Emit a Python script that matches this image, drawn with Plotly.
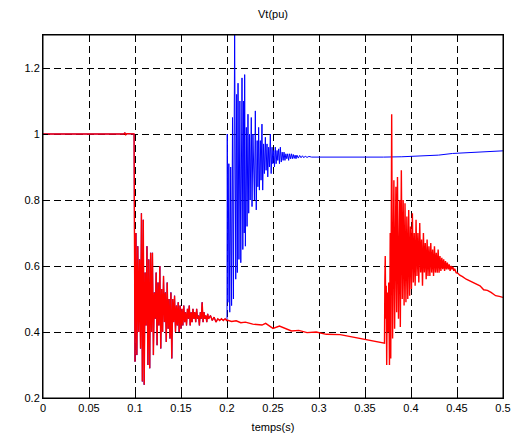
import plotly.graph_objects as go

# ---- data (time in s, voltage in pu) ----
# segment common to both cases (pre-fault + fault, 0 .. 0.2 s)
common_t = [0.000, 0.050, 0.088, 0.089, 0.090, 0.091, 0.099,
            0.100, 0.101, 0.102, 0.103, 0.104, 0.105, 0.106, 0.107, 0.108, 0.109,
            0.110, 0.111, 0.112, 0.113, 0.114, 0.115, 0.116, 0.117, 0.118, 0.119,
            0.120, 0.121, 0.122, 0.123, 0.124, 0.125, 0.126, 0.127, 0.128, 0.129,
            0.130, 0.131, 0.132, 0.133, 0.134, 0.135, 0.136, 0.137, 0.138, 0.139,
            0.140, 0.141, 0.142, 0.143, 0.144, 0.145, 0.146, 0.147, 0.148, 0.149,
            0.150, 0.151, 0.152, 0.153, 0.154, 0.155, 0.156, 0.157, 0.158, 0.159,
            0.160, 0.161, 0.162, 0.163, 0.164, 0.165, 0.166, 0.167, 0.168, 0.169,
            0.170, 0.171, 0.172, 0.173, 0.174, 0.175, 0.176, 0.177, 0.178, 0.179,
            0.180, 0.182, 0.184, 0.186, 0.188, 0.190, 0.192, 0.194, 0.196, 0.198, 0.1995]
common_v = [1.000, 1.000, 1.000, 1.004, 0.998, 1.001, 1.000,
            0.31, 0.70, 0.33, 0.66, 0.40, 0.62, 0.35, 0.76, 0.25, 0.74,
            0.24, 0.58, 0.42, 0.66, 0.30, 0.62, 0.29, 0.64, 0.40, 0.64,
            0.33, 0.52, 0.44, 0.58, 0.36, 0.55, 0.42, 0.60, 0.35, 0.53,
            0.40, 0.57, 0.43, 0.52, 0.37, 0.55, 0.41, 0.50, 0.38, 0.52,
            0.32, 0.50, 0.43, 0.51, 0.40, 0.48, 0.42, 0.49, 0.40, 0.48,
            0.41, 0.47, 0.42, 0.48, 0.43, 0.46, 0.42, 0.47, 0.44, 0.48,
            0.42, 0.46, 0.43, 0.47, 0.44, 0.46, 0.43, 0.47, 0.44, 0.45,
            0.42, 0.46, 0.44, 0.49, 0.43, 0.46, 0.44, 0.45, 0.43, 0.455,
            0.44, 0.45, 0.435, 0.445, 0.43, 0.44, 0.435, 0.44, 0.435, 0.44, 0.435]

# blue case: fault cleared at 0.2 s
blue_t = [0.2000, 0.2003, 0.2010, 0.2020, 0.2030, 0.2040, 0.2050, 0.2060, 0.2070,
          0.2083, 0.2095, 0.2105, 0.2112, 0.2120, 0.2130, 0.2140, 0.2150, 0.2163,
          0.2172, 0.2180, 0.2187, 0.2192, 0.2200, 0.2210, 0.2218, 0.2228, 0.2236,
          0.2245, 0.2252, 0.2264, 0.2272, 0.2282, 0.2290, 0.2298, 0.2308, 0.2318,
          0.2328, 0.2336, 0.2344, 0.2352, 0.2362, 0.2370, 0.2380, 0.2388, 0.2398,
          0.2406, 0.2417, 0.2425, 0.2435, 0.2443, 0.2453, 0.2461, 0.2471, 0.2480,
          0.2490, 0.2498, 0.2508, 0.2516, 0.2525, 0.2534, 0.2544, 0.2552, 0.2562,
          0.2570, 0.2580, 0.2590, 0.2600, 0.2610, 0.2620, 0.2630, 0.2640, 0.2650,
          0.2660, 0.2670, 0.2680, 0.2690, 0.2700, 0.2710, 0.2720, 0.2730, 0.2740,
          0.2750, 0.2760, 0.2775, 0.2790, 0.2805, 0.2820, 0.2835, 0.2850, 0.2870,
          0.2890, 0.2920, 0.3000, 0.3400, 0.3600, 0.3700, 0.3900, 0.4000, 0.4200,
          0.4300, 0.4450, 0.4600, 0.4750, 0.4900, 0.5000]
blue_v = [0.44, 1.00, 0.49, 0.91, 0.46, 0.90, 0.48, 1.05, 0.50,
          1.32, 0.56, 1.12, 0.58, 1.154, 0.62, 1.10, 0.61, 1.17,
          0.65, 1.10, 0.70, 1.18, 0.66, 1.02, 0.72, 1.06, 0.76,
          1.00, 0.80, 1.05, 0.78, 1.00, 0.82, 0.80, 1.07, 0.77,
          0.98, 0.84, 1.02, 0.83, 0.98, 0.86, 1.03, 0.83, 0.97,
          0.88, 0.99, 0.89, 0.97, 0.87, 0.96, 0.90, 1.00, 0.88,
          0.96, 0.91, 0.95, 0.90, 0.96, 0.91, 0.95, 0.92, 0.955,
          0.91, 0.96, 0.915, 0.945, 0.92, 0.945, 0.92, 0.94, 0.925,
          0.94, 0.92, 0.94, 0.925, 0.94, 0.925, 0.938, 0.926, 0.936,
          0.925, 0.936, 0.927, 0.935, 0.928, 0.934, 0.928, 0.933, 0.929,
          0.932, 0.930, 0.930, 0.929, 0.930, 0.930, 0.931, 0.932, 0.933,
          0.936, 0.941, 0.943, 0.946, 0.948, 0.949]

# red case: fault cleared at about 0.37 s
red_t = [0.2000, 0.2050, 0.2100, 0.2150, 0.2200, 0.2280, 0.2380, 0.2420, 0.2500,
         0.2570, 0.2630, 0.2700, 0.2780, 0.2870, 0.2970, 0.3080, 0.3230, 0.3370,
         0.3520, 0.3630, 0.3700, 0.3712,
         0.3716, 0.3720, 0.3726, 0.3731, 0.3736, 0.3742, 0.3750, 0.3758, 0.3766,
         0.3774, 0.3780, 0.3790, 0.3800, 0.3814, 0.3822, 0.3836, 0.3844, 0.3853,
         0.3864, 0.3877, 0.3884, 0.3895, 0.3905, 0.3915, 0.3925, 0.3935, 0.3945,
         0.3955, 0.3965, 0.3975, 0.3985, 0.3995, 0.4005, 0.4015, 0.4025, 0.4035,
         0.4045, 0.4055, 0.4065, 0.4075, 0.4085, 0.4095, 0.4105, 0.4115, 0.4125,
         0.4135, 0.4145, 0.4155, 0.4165, 0.4175, 0.4185, 0.4195, 0.4205, 0.4215,
         0.4225, 0.4235, 0.4245, 0.4255, 0.4265, 0.4275, 0.4285, 0.4295, 0.4305,
         0.4315, 0.4325, 0.4335, 0.4345, 0.4355, 0.4365, 0.4375, 0.4385, 0.4395,
         0.4405, 0.4415, 0.4425, 0.4435, 0.4445, 0.4455, 0.4465, 0.4475, 0.4490,
         0.4510, 0.4530, 0.4560, 0.4600, 0.4650, 0.4700, 0.4750, 0.4790, 0.4830,
         0.4870, 0.4920, 0.4960, 0.5000]
red_v = [0.436, 0.432, 0.434, 0.428, 0.430, 0.424, 0.421, 0.426, 0.411,
         0.418, 0.410, 0.403, 0.405, 0.398, 0.400, 0.393, 0.392, 0.384,
         0.376, 0.371, 0.366, 0.366,
         0.56, 0.63, 0.44, 0.54, 0.30, 0.52, 0.40, 0.55, 0.30,
         0.70, 0.32, 1.06, 0.38, 0.86, 0.41, 0.84, 0.46, 0.87,
         0.44, 0.80, 0.415, 0.89, 0.50, 0.80, 0.48, 0.79, 0.49,
         0.75, 0.50, 0.77, 0.51, 0.72, 0.53, 0.76, 0.55, 0.70,
         0.54, 0.74, 0.57, 0.70, 0.55, 0.73, 0.58, 0.68, 0.54,
         0.70, 0.58, 0.67, 0.56, 0.68, 0.57, 0.66, 0.57, 0.67,
         0.58, 0.65, 0.57, 0.66, 0.58, 0.64, 0.58, 0.65, 0.58,
         0.63, 0.585, 0.625, 0.59, 0.62, 0.585, 0.615, 0.59, 0.61,
         0.59, 0.605, 0.585, 0.60, 0.59, 0.598, 0.585, 0.592, 0.58,
         0.578, 0.572, 0.568, 0.560, 0.553, 0.547, 0.540, 0.528, 0.526,
         0.520, 0.510, 0.508, 0.505]

x_ticks = [0, 0.05, 0.1, 0.15, 0.2, 0.25, 0.3, 0.35, 0.4, 0.45, 0.5]
y_ticks = [0.2, 0.4, 0.6, 0.8, 1.0, 1.2]
title_text = "Vt(pu)"
x_label = "temps(s)"

fig = go.Figure()
fig.add_trace(go.Scatter(x=common_t + blue_t, y=common_v + blue_v, mode="lines",
                         line=dict(color="#0000FF", width=1), showlegend=False))
fig.add_trace(go.Scatter(x=common_t + red_t, y=common_v + red_v, mode="lines",
                         line=dict(color="#FF0000", width=1.4), showlegend=False))

axis_common = dict(showline=True, linecolor="black", linewidth=1, mirror="ticks",
                   ticks="inside", ticklen=5, tickcolor="black", tickwidth=1,
                   showgrid=True, gridcolor="black", gridwidth=0.8, griddash="7px,4px",
                   zeroline=False, automargin=False,
                   tickfont=dict(size=11, color="black"))

fig.update_xaxes(range=[0, 0.5], tickvals=x_ticks,
                 title=dict(text=x_label, font=dict(size=11, color="black"), standoff=10),
                 **axis_common)
fig.update_yaxes(range=[0.2, 1.3], tickvals=y_ticks, **axis_common)

fig.update_layout(
    width=518, height=439,
    margin=dict(l=43, r=15, t=35, b=41, autoexpand=False),
    paper_bgcolor="white", plot_bgcolor="white",
    font=dict(family="Liberation Sans, Arial, sans-serif", size=11, color="black"),
    title=dict(text=title_text, x=0.5, xref="paper", y=1, yref="paper",
               yanchor="bottom", pad=dict(b=17), automargin=False,
               font=dict(size=11, color="black")),
    shapes=[dict(type="rect", xref="paper", yref="paper", x0=0, x1=1, y0=0, y1=1,
                 line=dict(color="black", width=1), fillcolor="rgba(0,0,0,0)",
                 layer="above")],
)

fig.write_html("out.html", config={"displayModeBar": False},
               post_script="document.body.style.margin='0px';document.body.style.padding='0px';")
